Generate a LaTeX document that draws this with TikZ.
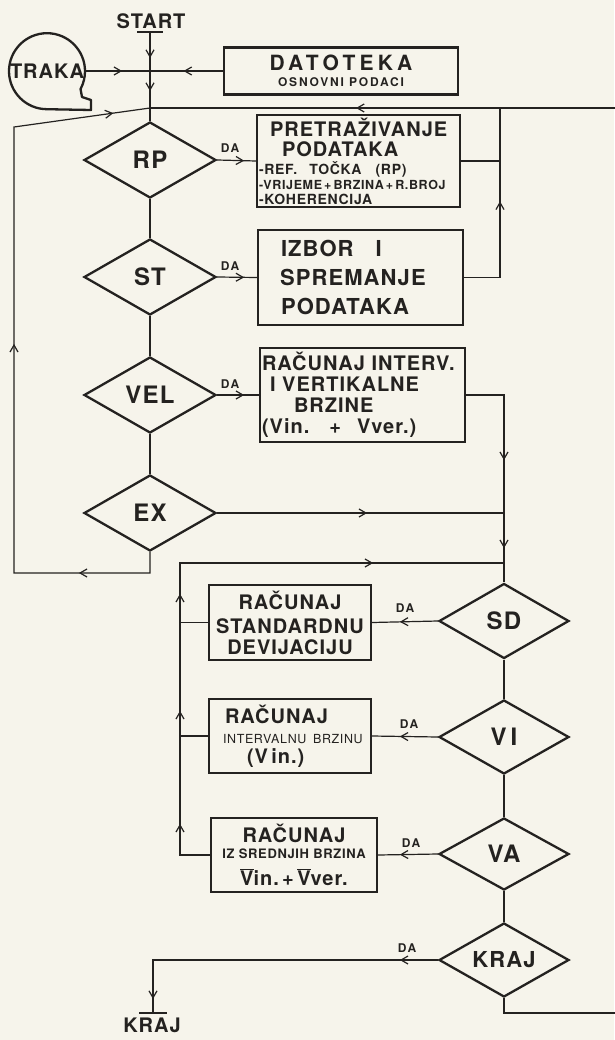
\documentclass[tikz,border=0pt]{standalone}
\usepackage{fontspec}
\setmainfont{TeX Gyre Heros}[LetterSpace=5]
\usetikzlibrary{arrows.meta,shapes.geometric,decorations.markings}
\definecolor{paper}{RGB}{246,244,235}
\definecolor{ink}{RGB}{36,34,32}
\newcommand{\sz}[2]{\fontsize{#1}{#2}\selectfont\bfseries}

\begin{document}
\begin{tikzpicture}[x=1pt,y=-1pt,color=ink,
  >={Straight Barb[length=7pt,width=8pt]},
  flow/.style={line width=1.2pt},
  arrowat/.style={postaction={decorate,decoration={markings,mark=at position #1 with {\arrow{>}}}}},
  decision/.style={diamond,draw,line width=2.3pt,aspect=1.75,inner sep=0pt,minimum width=132pt,minimum height=76pt,font=\sz{24}{24}},
  stepbox/.style={rectangle,draw,line width=2.3pt,inner sep=2pt},
  dalabel/.style={font=\sz{12}{12}\addfontfeature{LetterSpace=12},inner sep=0pt},
  endlabel/.style={font=\sz{20}{20},inner sep=0pt}]
\useasboundingbox (0,0) rectangle (614,1040);
\fill[paper] (0,0) rectangle (614,1040);

\node[endlabel] (start) at (151,21) {START};
\coordinate (startbar) at (150,32);
\draw[line width=2pt] ([xshift=-13pt]startbar) -- ([xshift=13pt]startbar);

\node[circle,inner sep=0pt,minimum size=76pt,font=\sz{20}{20}] (traka) at (47,71) {TRAKA};
\draw[line width=2.3pt,line join=round] (traka.south) arc[start angle=90,end angle=388,radius=38] -- (82,97) -- (91,100) -- (91,110) -- cycle;

\node[stepbox,minimum width=234pt,minimum height=47pt,align=center,font=\sz{21}{16}] (dat) at (341,71)
  {{\addfontfeature{LetterSpace=20}DATOTEKA}\\{\sz{12}{12}\addfontfeature{LetterSpace=15}OSNOVNI PODACI}};

\node[decision] (rp) at (150,160) {RP};
\node[decision] (st) at (150,277) {ST};
\node[decision] (vel) at (150,395) {VEL};
\node[decision] (ex) at (150,513) {EX};

\node[stepbox,minimum width=203pt,minimum height=92pt,text width=199pt,align=left,font=\sz{20}{15}] (search) at (358.5,161)
  {\hspace*{11pt}PRETRAŽIVANJE\\[4pt]\hspace*{23pt}PODATAKA\\[3pt]
   {\sz{14}{14}-REF.\hspace{12pt}TOČKA\hspace{14pt}(RP)}\\
   {\sz{12.5}{12.5}-VRIJEME\,+\,BRZINA\,+\,R.BROJ}\\
   {\sz{14}{14}-KOHERENCIJA}};
\node[stepbox,minimum width=205pt,minimum height=95pt,text width=201pt,align=left,font=\sz{22}{29}] (store) at (360.5,277.5)
  {\hspace*{21pt}IZBOR\hspace{22pt}I\\\hspace*{20pt}SPREMANJE\\\hspace*{21pt}PODATAKA};
\node[stepbox,minimum width=205pt,minimum height=94pt,text width=201pt,align=left,font=\sz{20}{21}] (velbox) at (362.5,395)
  {RAČUNAJ INTERV.\\\hspace*{8pt}I VERTIKALNE\\\hspace*{32pt}BRZINE\\(Vin.\hspace{20pt}+\hspace{16pt}Vver.)};

\node[decision,minimum width=130pt,minimum height=75pt] (sd) at (504,621) {SD};
\node[decision,minimum width=130pt,minimum height=74pt] (vi) at (504,737) {V\,I};
\node[decision,minimum width=130pt,minimum height=72pt] (va) at (504,854) {VA};
\node[decision,minimum width=130pt,minimum height=74pt,font=\sz{22}{22}] (kraj) at (504,960) {KRAJ};

\node[stepbox,minimum width=162pt,minimum height=75pt,align=center,font=\sz{20}{22}] (sdbox) at (290,622.5)
  {RAČUNAJ\\[2pt]STANDARDNU\\[-1pt]DEVIJACIJU};
\node[stepbox,minimum width=162pt,minimum height=74pt,text width=158pt,align=left,font=\sz{20}{20}] (vibox) at (290,736)
  {\hspace*{14pt}RAČUNAJ\\\hspace*{12pt}{\fontsize{12.5}{12.5}\selectfont\mdseries INTERVALNU BRZINU}\\\hspace*{36pt}(V\,in.)};
\node[stepbox,minimum width=166pt,minimum height=74pt,align=center,font=\sz{20}{16}] (vabox) at (294,855)
  {RAČUNAJ\\{\sz{13}{13}IZ SREDNJIH BRZINA}\\[9pt]$\overline{\mbox{V}}$in.\,+\,$\overline{\mbox{V}}$ver.};

\node[dalabel] (da1) at (230,148) {DA};
\node[dalabel] (da2) at (230,266) {DA};
\node[dalabel] (da3) at (230,384) {DA};
\node[dalabel] (da4) at (405,608) {DA};
\node[dalabel] (da5) at (409,724) {DA};
\node[dalabel] (da6) at (411,843) {DA};
\node[dalabel] (da7) at (407,948) {DA};

\coordinate (jin) at (150,71);
\coordinate (jloop) at (150,108);
\coordinate (rret) at (500,108);
\coordinate (exdown) at (150,573);
\coordinate (lbot) at (14,573);
\coordinate (ltop) at (14,127);
\coordinate (lcol) at (180,563);
\coordinate (kend) at (504,1013);
\coordinate (edgeb) at (625,1013);
\coordinate (edget) at (625,108);
\coordinate (endbar) at (153,1013);

\draw[flow,arrowat=26pt] (startbar) -- (jin);
\draw[flow,arrowat=20pt] (jin) -- (jloop) -- (rp.north);
\draw[flow,arrowat=0.57] (traka.east) -- (jin);
\draw[flow,arrowat=0.54] (dat.west) -- (jin);

\draw[flow] (rp.south) -- (st.north);
\draw[flow] (st.south) -- (vel.north);
\draw[flow] (vel.south) -- (ex.north);
\draw[flow,arrowat=27pt] (rp.east) -- (search.west);
\draw[flow,arrowat=27pt] (st.east) -- (store.west);
\draw[flow,arrowat=27pt] (vel.east) -- (velbox.west);

\draw[flow] (search.east) -- (search.east -| rret);
\draw[flow,arrowat=112pt] (store.east) -| (rret);

\draw[flow,arrowat=92pt,arrowat=386pt,arrowat=-37pt] (ex.south) -- (exdown) -- (lbot) -- (ltop) -- (jloop);
\draw[flow,arrowat=150pt] (ex.east) -- (ex.east -| sd.north);
\draw[flow,arrowat=103pt,arrowat=191pt] (velbox.east) -| (sd.north);

\draw[flow] (sd.south) -- (vi.north);
\draw[flow] (vi.south) -- (va.north);
\draw[flow] (va.south) -- (kraj.north);
\draw[flow,arrowat=38pt] (sd.west) -- (sdbox.east);
\draw[flow,arrowat=38pt] (vi.west) -- (vibox.east);
\draw[flow,arrowat=38pt] (va.west) -- (vabox.east);
\draw[flow] (sdbox.west) -- (sdbox.west -| lcol);
\draw[flow] (vibox.west) -- (vibox.west -| lcol);
\draw[flow,arrowat=61pt,arrowat=174pt,arrowat=291pt,arrowat=515pt] (vabox.west) -| (lcol) -- (lcol -| sd.north);

\draw[flow,arrowat=38pt,arrowat=-14pt] (kraj.west) -| (endbar);
\draw[line width=2pt] ([xshift=-14pt]endbar) -- ([xshift=14pt]endbar);
\node[endlabel] (stop) at (152,1025) {KRAJ};
\draw[flow,arrowat=-206pt] (kraj.south) -- (kend) -- (edgeb) -- (edget) -- (jloop);
\end{tikzpicture}
\end{document}
